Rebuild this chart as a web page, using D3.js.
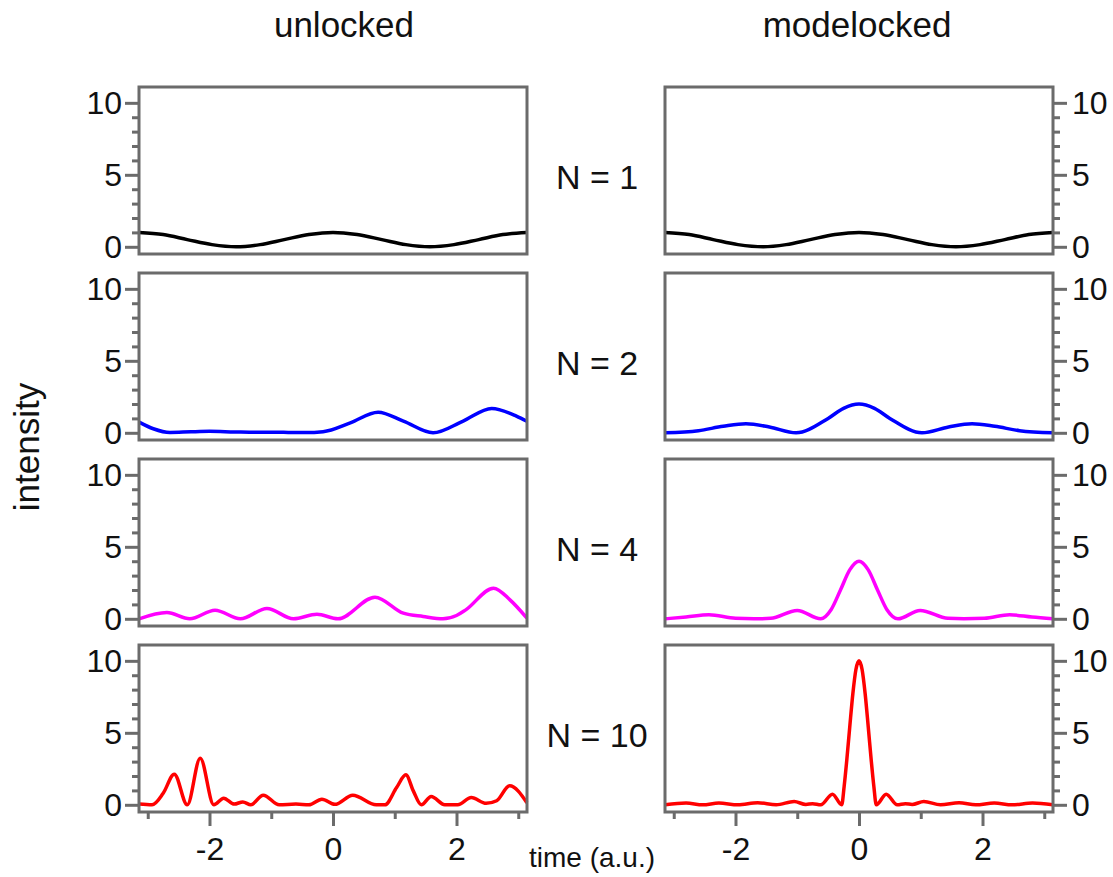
<!DOCTYPE html>
<html>
<head>
<meta charset="utf-8">
<script src="https://cdnjs.cloudflare.com/ajax/libs/d3/7.8.5/d3.min.js"></script>
<style>
  body { margin: 0; background: #fff; }
  svg { font-family: Arial, "Liberation Sans", sans-serif; }
  .frame { fill: none; stroke: #6b6b6b; stroke-width: 3; }
  .tick line { stroke: #6b6b6b; stroke-width: 3; }
  .tick text { fill: #111; font-size: 32px; }
  .trace { fill: none; stroke-width: 3.5; stroke-linejoin: round; }
  .label { fill: #111; }
</style>
</head>
<body>
<svg width="1113" height="877"></svg>
<script>
var modeCounts = [1, 2, 4, 10];
var traceColors = ["#000000", "#0000ff", "#ff00ff", "#ff0000"];
var columnTitles = ["unlocked", "modelocked"];
var yMajorTicks = [0, 5, 10];
var yMinorTicks = [1, 2, 3, 4, 6, 7, 8, 9];
var xMajorTicks = [-2, 0, 2];
var xMinorTicks = [-3, -1, 1, 3];

// [time, intensity]
var unlocked1 = [[-3.14, 1], [-2.75, 0.85], [-2.36, 0.5], [-1.96, 0.15], [-1.57, 0], [-1.18, 0.15], [-0.79, 0.5],
  [-0.39, 0.85], [0, 1], [0.39, 0.85], [0.79, 0.5], [1.18, 0.15], [1.57, 0], [1.96, 0.15], [2.36, 0.5], [2.75, 0.85], [3.14, 1]];
var modelocked1 = [[-3.14, 1], [-2.75, 0.85], [-2.36, 0.5], [-1.96, 0.15], [-1.55, 0], [-1.18, 0.15], [-0.79, 0.5],
  [-0.39, 0.85], [0, 1], [0.39, 0.85], [0.79, 0.5], [1.18, 0.15], [1.57, 0], [1.96, 0.15], [2.36, 0.5], [2.75, 0.85], [3.14, 1]];

var unlocked2 = [[-3.14, 0.74], [-2.91, 0.28], [-2.64, 0.02], [-2.3, 0.07], [-2.0, 0.1], [-1.6, 0.06], [-1.2, 0.03],
  [-0.8, 0.03], [-0.45, 0.02], [-0.16, 0.08], [0.28, 0.69], [0.73, 1.43], [1.14, 0.81], [1.62, 0], [2.1, 0.8],
  [2.57, 1.69], [2.97, 1.16], [3.14, 0.8]];
var modelocked2 = [[-3.14, 0], [-2.6, 0.15], [-2.2, 0.45], [-1.83, 0.63], [-1.45, 0.4], [-1.02, 0], [-0.5, 1.0],
  [-0.25, 1.7], [0, 2.0], [0.25, 1.7], [0.5, 1.0], [1.02, 0], [1.45, 0.4], [1.83, 0.63], [2.2, 0.45], [2.6, 0.15], [3.14, 0]];

var unlocked4 = [[-3.14, 0], [-2.69, 0.44], [-2.32, 0], [-1.91, 0.6], [-1.5, 0], [-1.07, 0.72], [-0.64, 0],
  [-0.26, 0.32], [0.08, 0], [0.68, 1.5], [1.14, 0.39], [1.46, 0.16], [1.78, 0], [2.0, 0.23], [2.15, 0.62],
  [2.6, 2.13], [2.87, 1.3], [3.14, 0.05]];
var modelocked4 = [[-3.14, 0], [-2.8, 0.12], [-2.43, 0.28], [-2.0, 0.03], [-1.7, 0], [-1.43, 0.03], [-1.0, 0.58],
  [-0.62, 0], [-0.45, 0.65], [-0.3, 2.0], [-0.15, 3.4], [0, 4], [0.15, 3.4], [0.3, 2.0], [0.45, 0.65], [0.63, 0],
  [0.99, 0.58], [1.44, 0.03], [1.7, 0], [2.03, 0.03], [2.44, 0.28], [2.8, 0.12], [3.14, 0]];

var unlocked10 = [[-3.14, 0.05], [-2.93, 0], [-2.75, 0.8], [-2.57, 2.13], [-2.36, 0], [-2.15, 3.24], [-1.93, 0],
  [-1.77, 0.46], [-1.6, 0.05], [-1.46, 0.2], [-1.33, 0], [-1.13, 0.67], [-0.87, 0], [-0.6, 0.05], [-0.39, 0],
  [-0.18, 0.39], [0.03, 0.03], [0.32, 0.67], [0.7, 0], [0.84, 0], [1.03, 1.2], [1.18, 2.08], [1.3, 0.97], [1.43, 0],
  [1.59, 0.58], [1.81, 0], [2.02, 0], [2.24, 0.5], [2.48, 0.1], [2.65, 0.28], [2.86, 1.32], [3.14, 0.15]];
var modelocked10 = [[-3.14, 0], [-2.8, 0.12], [-2.53, 0], [-2.27, 0.12], [-1.96, 0], [-1.64, 0.14], [-1.34, 0],
  [-1.05, 0.23], [-0.86, 0.02], [-0.75, 0.08], [-0.62, 0], [-0.43, 0.74], [-0.28, 0], [-0.24, 1.3], [-0.2, 3.0],
  [-0.15, 5.4], [-0.1, 7.7], [-0.05, 9.4], [0, 10], [0.05, 9.4], [0.1, 7.7], [0.15, 5.4], [0.2, 3.0], [0.24, 1.3],
  [0.28, 0], [0.44, 0.74], [0.62, 0], [0.75, 0.08], [0.86, 0.02], [1.05, 0.23], [1.32, 0], [1.62, 0.14], [1.89, 0],
  [2.19, 0.12], [2.48, 0], [2.81, 0.12], [3.14, 0]];

var traces = [
  [unlocked1, modelocked1],
  [unlocked2, modelocked2],
  [unlocked4, modelocked4],
  [unlocked10, modelocked10]
];

var svg = d3.select("svg");

var colLeft = [139, 665],
  panelWidth = 388,
  panelTop = 87,
  rowStep = 186,
  panelHeight = 167;

var x = d3.scaleLinear().domain([-Math.PI, Math.PI]).range([0, panelWidth]);
var y = d3.scaleLinear().domain([-0.5, 11.1]).range([panelHeight, 0]);

// plain hyphen for negatives, like the original
var plain = function(d) { return String(d); };

var line = d3.line()
  .x(function(d) { return x(d[0]); })
  .y(function(d) { return y(d[1]); })
  .curve(d3.curveMonotoneX);

modeCounts.forEach(function(n, row) {
  for (var col = 0; col < 2; col++) {
    var g = svg.append("g")
      .attr("transform", "translate(" + colLeft[col] + "," + (panelTop + row * rowStep) + ")");

    var yAxis = col == 0 ? d3.axisLeft(y) : d3.axisRight(y);
    var yAxisMinor = col == 0 ? d3.axisLeft(y) : d3.axisRight(y);
    var ax = g.append("g").attr("transform", col == 0 ? null : "translate(" + panelWidth + ",0)");

    ax.append("g").call(yAxisMinor.tickValues(yMinorTicks).tickSize(7).tickFormat(""));
    ax.append("g").call(yAxis.tickValues(yMajorTicks).tickSize(14).tickPadding(col == 0 ? 3 : 5)
      .tickFormat(plain));

    if (row == modeCounts.length - 1) {
      var bx = g.append("g").attr("transform", "translate(0," + panelHeight + ")");
      bx.append("g").call(d3.axisBottom(x).tickValues(xMinorTicks).tickSize(7).tickFormat(""));
      bx.append("g").call(d3.axisBottom(x).tickValues(xMajorTicks).tickSize(14).tickPadding(11)
        .tickFormat(plain));
    }

    g.selectAll(".domain").remove();

    g.append("path")
      .attr("class", "trace")
      .attr("stroke", traceColors[row])
      .attr("d", line(traces[row][col]));

    g.append("rect")
      .attr("class", "frame")
      .attr("width", panelWidth)
      .attr("height", panelHeight);
  }

  svg.append("text")
    .attr("class", "label")
    .attr("x", 597)
    .attr("y", panelTop + row * rowStep + 90)
    .attr("text-anchor", "middle")
    .attr("dominant-baseline", "central")
    .style("font-size", "34px")
    .text("N = " + n);
});

columnTitles.forEach(function(t, col) {
  svg.append("text")
    .attr("class", "label")
    .attr("x", colLeft[col] + panelWidth / 2 + (col == 0 ? 11 : -2))
    .attr("y", 37)
    .attr("text-anchor", "middle")
    .style("font-size", "35px")
    .text(t);
});

svg.append("text")
  .attr("class", "label")
  .attr("transform", "translate(39,447) rotate(-90)")
  .attr("text-anchor", "middle")
  .style("font-size", "35px")
  .text("intensity");

svg.append("text")
  .attr("class", "label")
  .attr("x", 592)
  .attr("y", 867)
  .attr("text-anchor", "middle")
  .style("font-size", "28px")
  .text("time (a.u.)");
</script>
</body>
</html>
